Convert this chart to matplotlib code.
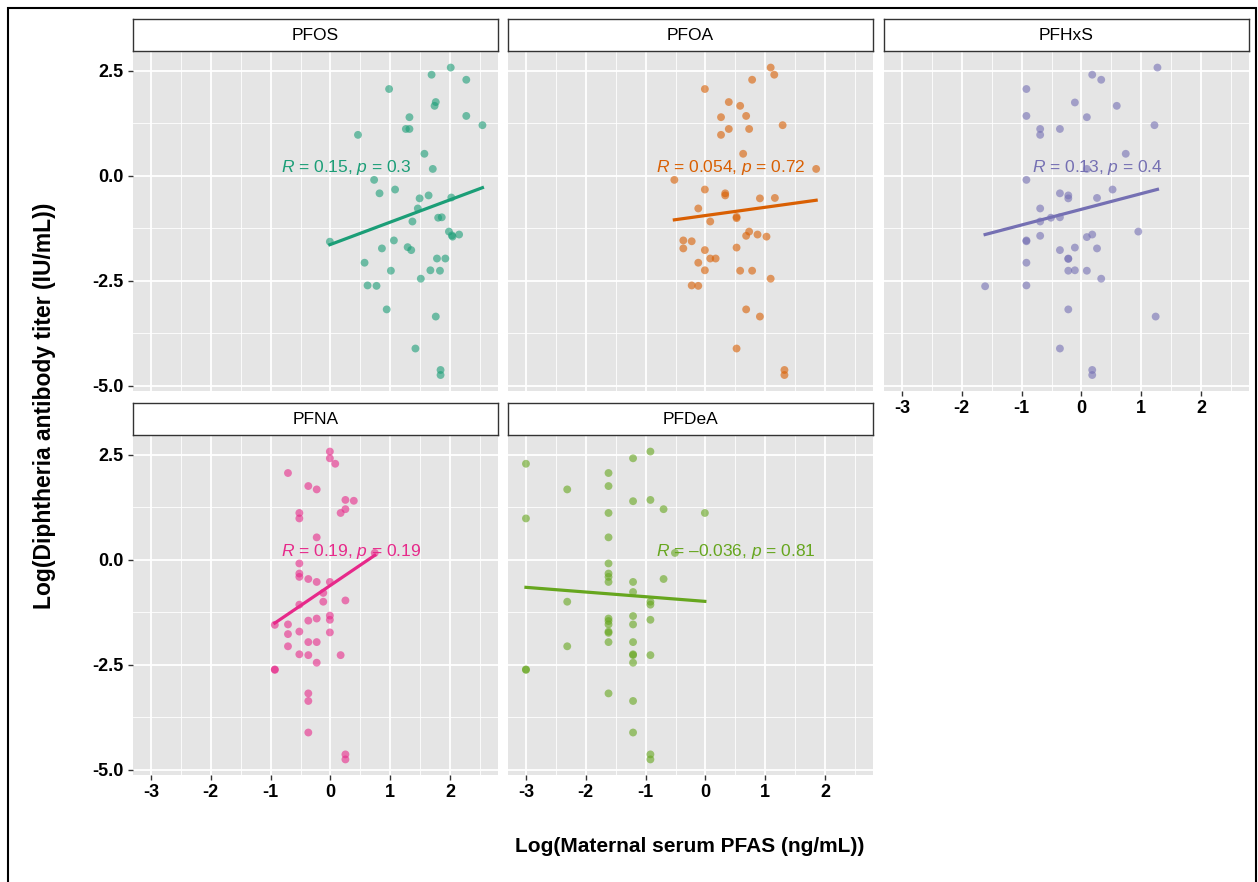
import matplotlib
matplotlib.use("Agg")
import matplotlib.pyplot as plt
import numpy as np
from matplotlib.patches import Rectangle

plt.rcParams['font.family'] = ['Liberation Sans', 'DejaVu Sans']
plt.rcParams['axes.unicode_minus'] = False
plt.rcParams['mathtext.fontset'] = 'custom'
plt.rcParams['mathtext.it'] = 'Liberation Sans:italic'
plt.rcParams['mathtext.rm'] = 'Liberation Sans'

# ---- data (log scale values) ----
pfos_x = [2.01, 1.69, 2.27, 0.98, 1.76, 1.74, 2.27, 1.32, 2.54, 1.26, 1.32, 0.46,
          1.57, 1.71, 0.73, 0.82, 1.08, 1.49, 1.64, 2.02, 1.46, 1.37, 1.80, 1.86,
          1.98, 2.04, 2.03, 2.15, -0.01, 1.06, 0.86, 1.29, 1.35, 0.57, 1.78, 1.92,
          1.01, 1.67, 1.83, 1.51, 0.62, 0.77, 0.94, 1.76, 1.42, 1.84, 1.84]
pfos_y = [2.57, 2.40, 2.28, 2.06, 1.75, 1.66, 1.42, 1.39, 1.20, 1.11, 1.11, 0.97,
          0.52, 0.16, -0.10, -0.42, -0.33, -0.54, -0.47, -0.52, -0.78, -1.09, -1.00, -0.99,
          -1.33, -1.45, -1.42, -1.40, -1.57, -1.54, -1.73, -1.70, -1.77, -2.07, -1.97, -1.97,
          -2.26, -2.25, -2.26, -2.45, -2.61, -2.62, -3.18, -3.35, -4.11, -4.62, -4.74]

pfoa_x = [1.09, 1.15, 0.78, -0.01, 0.39, 0.58, 0.26, 0.68, 1.29, 0.39, 0.73, 0.26,
          0.63, 1.85, -0.52, -0.01, 0.33, 0.33, 0.91, 1.16, -0.12, 0.52, 0.52, 0.08,
          0.73, 0.68, 0.87, 1.02, -0.37, -0.23, -0.37, -0.01, 0.52, -0.12, 0.08, 0.17,
          -0.01, 0.58, 0.78, 1.09, -0.23, -0.12, 0.68, 0.91, 0.52, 1.32, 1.32]
pfoa_y = [2.57, 2.40, 2.28, 2.06, 1.75, 1.66, 1.39, 1.42, 1.20, 1.11, 1.11, 0.97,
          0.52, 0.16, -0.10, -0.33, -0.42, -0.47, -0.54, -0.53, -0.78, -0.98, -1.01, -1.09,
          -1.33, -1.43, -1.40, -1.45, -1.54, -1.56, -1.73, -1.77, -1.71, -2.07, -1.97, -1.97,
          -2.25, -2.26, -2.26, -2.45, -2.61, -2.62, -3.18, -3.35, -4.11, -4.62, -4.74]

pfhxs_x = [1.27, 0.18, 0.33, -0.92, -0.11, 0.59, -0.92, 0.09, 1.22, -0.69, -0.69, -0.36,
           0.74, 0.09, -0.92, 0.52, -0.36, -0.22, -0.22, 0.26, -0.69, -0.69, -0.51, -0.36,
           0.95, 0.09, 0.18, -0.69, -0.92, -0.92, -0.36, -0.11, 0.26, -0.92, -0.22, -0.22,
           -0.22, -0.11, 0.09, 0.33, -1.61, -0.92, -0.22, 1.24, -0.36, 0.18, 0.18]
pfhxs_y = [2.57, 2.40, 2.28, 2.06, 1.74, 1.66, 1.42, 1.39, 1.20, 1.11, 0.97, 1.11,
           0.52, 0.16, -0.10, -0.33, -0.42, -0.47, -0.54, -0.53, -0.78, -1.09, -1.00, -0.99,
           -1.33, -1.46, -1.40, -1.43, -1.54, -1.56, -1.77, -1.71, -1.73, -2.07, -1.97, -1.98,
           -2.26, -2.25, -2.26, -2.45, -2.63, -2.61, -3.18, -3.35, -4.11, -4.62, -4.74]

pfna_x = [-0.01, -0.01, 0.08, -0.71, -0.37, -0.23, 0.25, 0.39, 0.25, 0.17, -0.52, -0.52,
          -0.23, 0.74, -0.52, -0.52, -0.52, -0.37, -0.23, -0.01, -0.12, -0.12, 0.25, -0.52,
          -0.01, -0.01, -0.23, -0.37, -0.93, -0.71, -0.52, -0.01, -0.71, -0.37, -0.23, -0.71,
          -0.52, -0.37, 0.17, -0.23, -0.93, -0.93, -0.37, -0.37, -0.37, 0.25, 0.25]
pfna_y = [2.57, 2.41, 2.28, 2.06, 1.75, 1.67, 1.42, 1.40, 1.20, 1.11, 1.11, 0.98,
          0.53, 0.16, -0.09, -0.33, -0.41, -0.46, -0.53, -0.53, -0.79, -1.00, -0.97, -1.07,
          -1.33, -1.43, -1.40, -1.45, -1.55, -1.54, -1.71, -1.73, -1.77, -1.96, -1.96, -2.06,
          -2.25, -2.27, -2.27, -2.45, -2.61, -2.62, -3.18, -3.36, -4.11, -4.63, -4.75]

pfdea_x = [-0.92, -1.21, -3.00, -1.62, -1.62, -2.31, -0.92, -1.21, -0.70, -1.62, -3.00, -0.01,
           -1.62, -0.51, -1.62, -1.62, -1.62, -1.62, -0.70, -1.21, -1.21, -2.31, -0.92, -0.92,
           -1.21, -0.92, -1.62, -1.62, -1.21, -1.62, -1.62, -1.62, -1.62, -1.21, -2.31, -1.21,
           -1.21, -0.92, -1.21, -3.00, -3.00, -1.62, -1.21, -1.21, -0.92, -0.92]
pfdea_y = [2.57, 2.41, 2.28, 2.06, 1.75, 1.67, 1.42, 1.39, 1.20, 1.11, 0.98, 1.11,
           0.53, 0.16, -0.09, -0.33, -0.41, -0.53, -0.46, -0.53, -0.77, -1.00, -1.00, -1.07,
           -1.34, -1.43, -1.40, -1.46, -1.54, -1.54, -1.71, -1.74, -1.96, -1.96, -2.06, -2.25,
           -2.27, -2.27, -2.45, -2.61, -2.62, -3.18, -3.36, -4.11, -4.63, -4.75]

panel_names = ['PFOS', 'PFOA', 'PFHxS', 'PFNA', 'PFDeA']
panel_x = [pfos_x, pfoa_x, pfhxs_x, pfna_x, pfdea_x]
panel_y = [pfos_y, pfoa_y, pfhxs_y, pfna_y, pfdea_y]
panel_cor = [r'$\it{R}$ = 0.15, $\it{p}$ = 0.3',
             r'$\it{R}$ = 0.054, $\it{p}$ = 0.72',
             r'$\it{R}$ = 0.13, $\it{p}$ = 0.4',
             r'$\it{R}$ = 0.19, $\it{p}$ = 0.19',
             r'$\it{R}$ = –0.036, $\it{p}$ = 0.81']
colors = ['#1B9E77', '#D95F02', '#7570B3', '#E7298A', '#66A61E']

# ---- layout (pixels) ----
W, H = 1258, 882
fig = plt.figure(figsize=(W / 100, H / 100), dpi=100)
fig.patch.set_facecolor('white')
fig.patches.append(Rectangle((8 / W, -0.01), 1248 / W, 1 - 8 / H + 0.01,
                             transform=fig.transFigure, fill=False,
                             edgecolor='black', linewidth=1.5))

col_left = [133, 508, 884]
panel_w = 365
row_top = [52, 436]
panel_h = 339
strip_h = 32

for i, name in enumerate(panel_names):
    r, c = divmod(i, 3)
    left = col_left[c]
    top = row_top[r]
    ax = fig.add_axes([left / W, 1 - (top + panel_h) / H, panel_w / W, panel_h / H])
    ax.set_facecolor('#E5E5E5')
    for s in ax.spines.values():
        s.set_visible(False)
    ax.set_xlim(-3.3, 2.8)
    ax.set_ylim(-5.12, 2.94)
    ax.set_xticks([-3, -2, -1, 0, 1, 2])
    ax.set_xticks([-2.5, -1.5, -0.5, 0.5, 1.5, 2.5], minor=True)
    ax.set_yticks([-5.0, -2.5, 0.0, 2.5])
    ax.set_yticks([-3.75, -1.25, 1.25], minor=True)
    ax.set_xticklabels(['-3', '-2', '-1', '0', '1', '2'])
    ax.set_yticklabels(['-5.0', '-2.5', '0.0', '2.5'])
    ax.grid(True, which='major', color='white', linewidth=1.3)
    ax.grid(True, which='minor', color='white', linewidth=0.6)
    ax.set_axisbelow(True)
    ax.tick_params(which='minor', length=0)
    ax.tick_params(which='major', length=3.5, width=1, color='#333333',
                   labelsize=13, pad=3)
    for lab in ax.get_xticklabels() + ax.get_yticklabels():
        lab.set_fontweight('bold')
        lab.set_color('black')
    if c != 0:
        ax.tick_params(axis='y', left=False, labelleft=False)
    if i in (0, 1):
        ax.tick_params(axis='x', bottom=False, labelbottom=False)

    x = np.array(panel_x[i])
    y = np.array(panel_y[i][:len(x)])
    ax.scatter(x, y, s=32, color=colors[i], alpha=0.6, edgecolors='none', zorder=3)
    slope, intercept = np.polyfit(x, y, 1)
    xs = np.array([x.min(), x.max()])
    ax.plot(xs, slope * xs + intercept, color=colors[i], linewidth=2.3, zorder=4)
    ax.text(-0.82, 0.2, panel_cor[i], color=colors[i], fontsize=12.5,
            ha='left', va='center', zorder=5)

    # strip
    sax = fig.add_axes([left / W, 1 - (top - 1) / H, panel_w / W, strip_h / H])
    sax.set_xticks([])
    sax.set_yticks([])
    sax.set_facecolor('white')
    for s in sax.spines.values():
        s.set_edgecolor('#333333')
        s.set_linewidth(1.0)
    sax.text(0.5, 0.5, name, ha='center', va='center', fontsize=12.5,
             transform=sax.transAxes)

fig.text(690 / W, 1 - 846 / H, 'Log(Maternal serum PFAS (ng/mL))',
         ha='center', va='center', fontsize=15, fontweight='bold')
fig.text(45 / W, 1 - 406 / H, 'Log(Diphtheria antibody titer (IU/mL))',
         ha='center', va='center', fontsize=16.5, fontweight='bold', rotation=90)

fig.savefig('out.png', dpi=100)
